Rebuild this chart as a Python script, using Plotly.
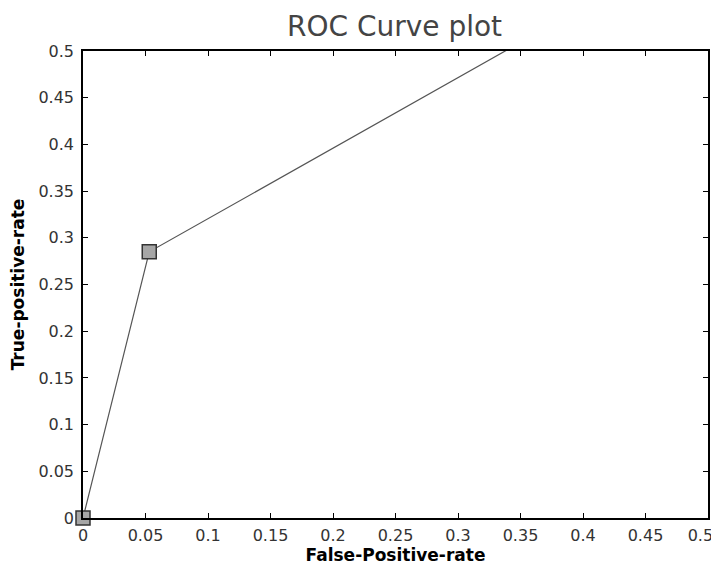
import plotly.graph_objects as go

fpr = [0.0, 0.053, 1.0]
tpr = [0.0, 0.285, 1.0]
tick_vals = [0, 0.05, 0.1, 0.15, 0.2, 0.25, 0.3, 0.35, 0.4, 0.45, 0.5]
tick_text = ["0", "0.05", "0.1", "0.15", "0.2", "0.25", "0.3", "0.35", "0.4", "0.45", "0.5"]

# last x label is nudged left (padding) so it is not clipped at the page edge
x_tick_text = tick_text[:-1] + [tick_text[-1] + "\u00a0\u00a0\u00a0"]

# the page body has an 8px default margin, so the figure is 8px smaller
W, H = 711, 557

fig = go.Figure()
fig.add_trace(go.Scatter(
    x=fpr, y=tpr, mode="lines+markers",
    line=dict(color="#555555", width=1.2),
    marker=dict(symbol="square", size=14, color="#a6a6a6",
                line=dict(color="#333333", width=1.5)),
    cliponaxis=False, showlegend=False,
))

axis_common = dict(
    range=[0, 0.5], tickvals=tick_vals,
    showline=True, linecolor="black", linewidth=1.5, mirror="allticks",
    ticks="inside", ticklen=5, tickwidth=1.2, tickcolor="black",
    showgrid=False, zeroline=False, automargin=False,
    ticklabeloverflow="allow",
    tickfont=dict(family="DejaVu Sans", size=16, color="#333333"),
)

fig.update_layout(
    template="none",
    width=W, height=H,
    margin=dict(l=75, r=11, t=43, b=47),
    paper_bgcolor="white", plot_bgcolor="white",
    title=dict(text="ROC Curve plot", x=386.5 / W, xanchor="center",
               y=1 - 18 / H, yanchor="middle",
               font=dict(family="DejaVu Sans", size=28, color="#444444")),
    xaxis=dict(**axis_common, ticktext=x_tick_text, ticklabelstandoff=2,
               title=dict(text="<b>False-Positive-rate</b>", standoff=5,
                          font=dict(family="DejaVu Sans", size=17, color="black"))),
    yaxis=dict(**axis_common, ticktext=tick_text, ticklabelstandoff=4,
               title=dict(text="<b>True-positive-rate</b>", standoff=10,
                          font=dict(family="DejaVu Sans", size=17, color="black"))),
)

fig.write_html("out.html")
